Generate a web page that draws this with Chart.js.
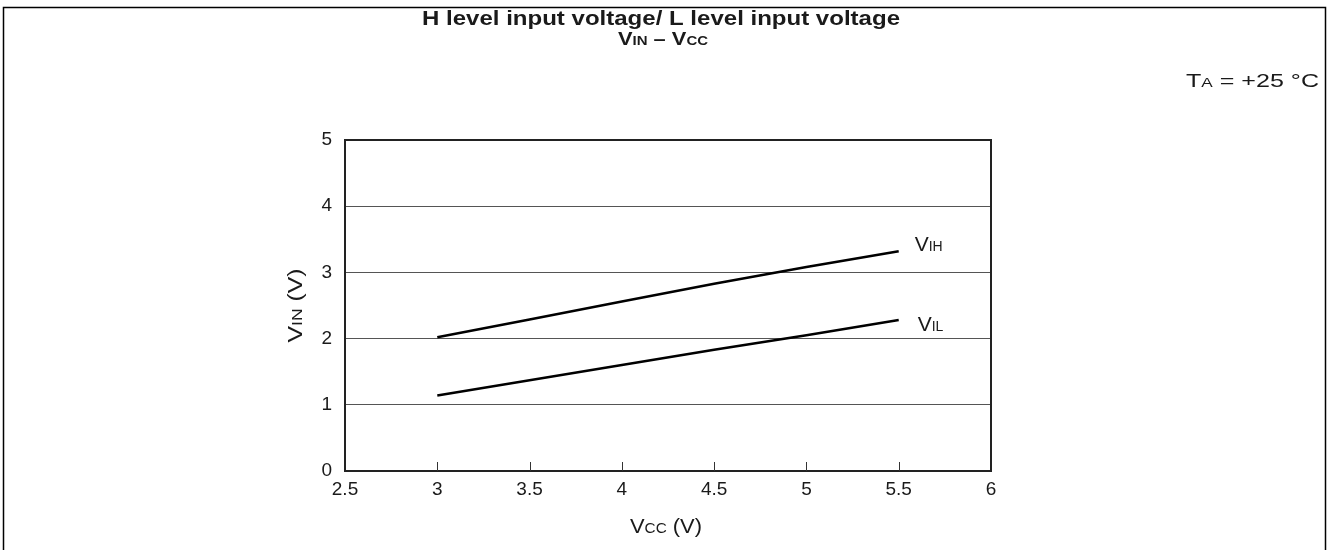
<!DOCTYPE html>
<html>
<head>
<meta charset="utf-8">
<script src="https://cdn.jsdelivr.net/npm/chart.js@4.4.1/dist/chart.umd.min.js"></script>
<style>
  html, body { margin: 0; padding: 0; background: #fff; }
  #wrap { width: 1331px; height: 550px; position: relative; }
</style>
</head>
<body>
<div id="wrap"><canvas id="c" width="1331" height="550"></canvas></div>
<script>
// Supply voltage (V) and threshold input voltages (V)
const vcc = [3, 3.5, 4, 4.5, 5, 5.5];
const vih = [2.02, 2.29, 2.56, 2.83, 3.08, 3.32];
const vil = [1.14, 1.37, 1.60, 1.83, 2.05, 2.28];
const xTicks = [2.5, 3, 3.5, 4, 4.5, 5, 5.5, 6];
const yTicks = [0, 1, 2, 3, 4, 5];

const FONT = '"Liberation Sans", Arial, Helvetica, sans-serif';
const INK = '#1a1a1a';

// Draw text made of [text, isSmall] runs (small runs are the small-cap suffixes
// such as IN, CC, IH). If `width` is given, the text is stretched horizontally to it.
function drawRuns(ctx, runs, x, y, o) {
  const fontOf = r => (o.bold ? 'bold ' : '') + (r[1] ? o.small : o.size) + 'px ' + FONT;
  const w = runs.map(r => { ctx.font = fontOf(r); return ctx.measureText(r[0]).width; });
  const natural = w.reduce((a, b) => a + b, 0);
  const sx = o.width ? o.width / natural : 1;
  const total = natural * sx;
  const x0 = o.align === 'center' ? x - total / 2 : o.align === 'right' ? x - total : x;
  ctx.save();
  ctx.translate(x0, y);
  ctx.scale(sx, 1);
  ctx.textBaseline = 'alphabetic';
  ctx.textAlign = 'left';
  let cx = 0;
  runs.forEach((r, i) => { ctx.font = fontOf(r); ctx.fillText(r[0], cx, 0); cx += w[i]; });
  ctx.restore();
}

const decor = {
  id: 'decor',
  afterDraw(chart) {
    const { ctx, chartArea: a, scales } = chart;
    const xs = scales.x, ys = scales.y;
    ctx.save();
    ctx.fillStyle = INK;

    // outer frame
    ctx.strokeStyle = '#000';
    ctx.lineWidth = 1.5;
    ctx.beginPath();
    ctx.moveTo(3.5, 550); ctx.lineTo(3.5, 7.5); ctx.lineTo(1325.5, 7.5); ctx.lineTo(1325.5, 550);
    ctx.stroke();

    // title
    drawRuns(ctx, [['H level input voltage/ L level input voltage', 0]], 661, 25,
      { size: 20, small: 20, bold: true, align: 'center', width: 478 });
    drawRuns(ctx, [['V', 0], ['IN', 1], [' \u2013 V', 0], ['CC', 1]], 663, 45,
      { size: 17.5, small: 12, bold: true, align: 'center', width: 90 });

    // ambient temperature note
    drawRuns(ctx, [['T', 0], ['A', 1], [' = +25 \u00B0C', 0]], 1319, 87,
      { size: 19, small: 13, align: 'right', width: 133 });

    // plot frame
    ctx.strokeStyle = '#222';
    ctx.lineWidth = 2;
    ctx.strokeRect(a.left, a.top, a.right - a.left, a.bottom - a.top);

    // x tick marks pointing into the plot
    ctx.lineWidth = 1;
    ctx.strokeStyle = '#333';
    xTicks.slice(1, -1).forEach(v => {
      const px = Math.round(xs.getPixelForValue(v)) + 0.5;
      ctx.beginPath();
      ctx.moveTo(px, a.bottom);
      ctx.lineTo(px, a.bottom - 9);
      ctx.stroke();
    });

    // axis titles
    drawRuns(ctx, [['V', 0], ['CC', 1], [' (V)', 0]], (a.left + a.right) / 2 - 2, 533,
      { size: 20, small: 14, align: 'center', width: 72 });
    ctx.save();
    ctx.translate(302, (a.top + a.bottom) / 2);
    ctx.rotate(-Math.PI / 2);
    drawRuns(ctx, [['V', 0], ['IN', 1], [' (V)', 0]], 0, 0,
      { size: 21, small: 15, align: 'center', width: 74 });
    ctx.restore();

    // series labels at the right end of each line
    const last = vcc.length - 1;
    const lx = xs.getPixelForValue(vcc[last]) + 16;
    drawRuns(ctx, [['V', 0], ['IH', 1]], lx, ys.getPixelForValue(vih[last]), { size: 21, small: 14, align: 'left' });
    drawRuns(ctx, [['V', 0], ['IL', 1]], lx + 3, ys.getPixelForValue(vil[last]) + 11, { size: 21, small: 14, align: 'left' });

    ctx.restore();
  }
};

new Chart(document.getElementById('c'), {
  type: 'line',
  data: {
    datasets: [
      { label: 'VIH', data: vcc.map((x, i) => ({ x, y: vih[i] })), borderColor: '#000', borderWidth: 2.5, pointRadius: 0, tension: 0 },
      { label: 'VIL', data: vcc.map((x, i) => ({ x, y: vil[i] })), borderColor: '#000', borderWidth: 2.5, pointRadius: 0, tension: 0 }
    ]
  },
  options: {
    responsive: false,
    animation: false,
    events: [],
    layout: { padding: { left: 0, right: 340, top: 140, bottom: 0 } },
    plugins: { legend: { display: false }, title: { display: false }, tooltip: { enabled: false } },
    scales: {
      x: {
        type: 'linear', min: 2.5, max: 6,
        afterBuildTicks: s => { s.ticks = xTicks.map(v => ({ value: v })); },
        afterFit: s => { s.height = 79; },
        grid: { display: false, drawTicks: false },
        border: { display: false },
        ticks: { padding: 7, color: INK, font: { family: FONT, size: 19 }, maxRotation: 0, autoSkip: false,
                 callback: v => String(v) }
      },
      y: {
        type: 'linear', min: 0, max: 5,
        afterBuildTicks: s => { s.ticks = yTicks.map(v => ({ value: v })); },
        afterFit: s => { s.width = 345; },
        grid: { color: '#555', lineWidth: 1, drawTicks: false },
        border: { display: false },
        ticks: { padding: 13, color: INK, font: { family: FONT, size: 19 }, callback: v => String(v) }
      }
    }
  },
  plugins: [decor]
});
</script>
</body>
</html>
